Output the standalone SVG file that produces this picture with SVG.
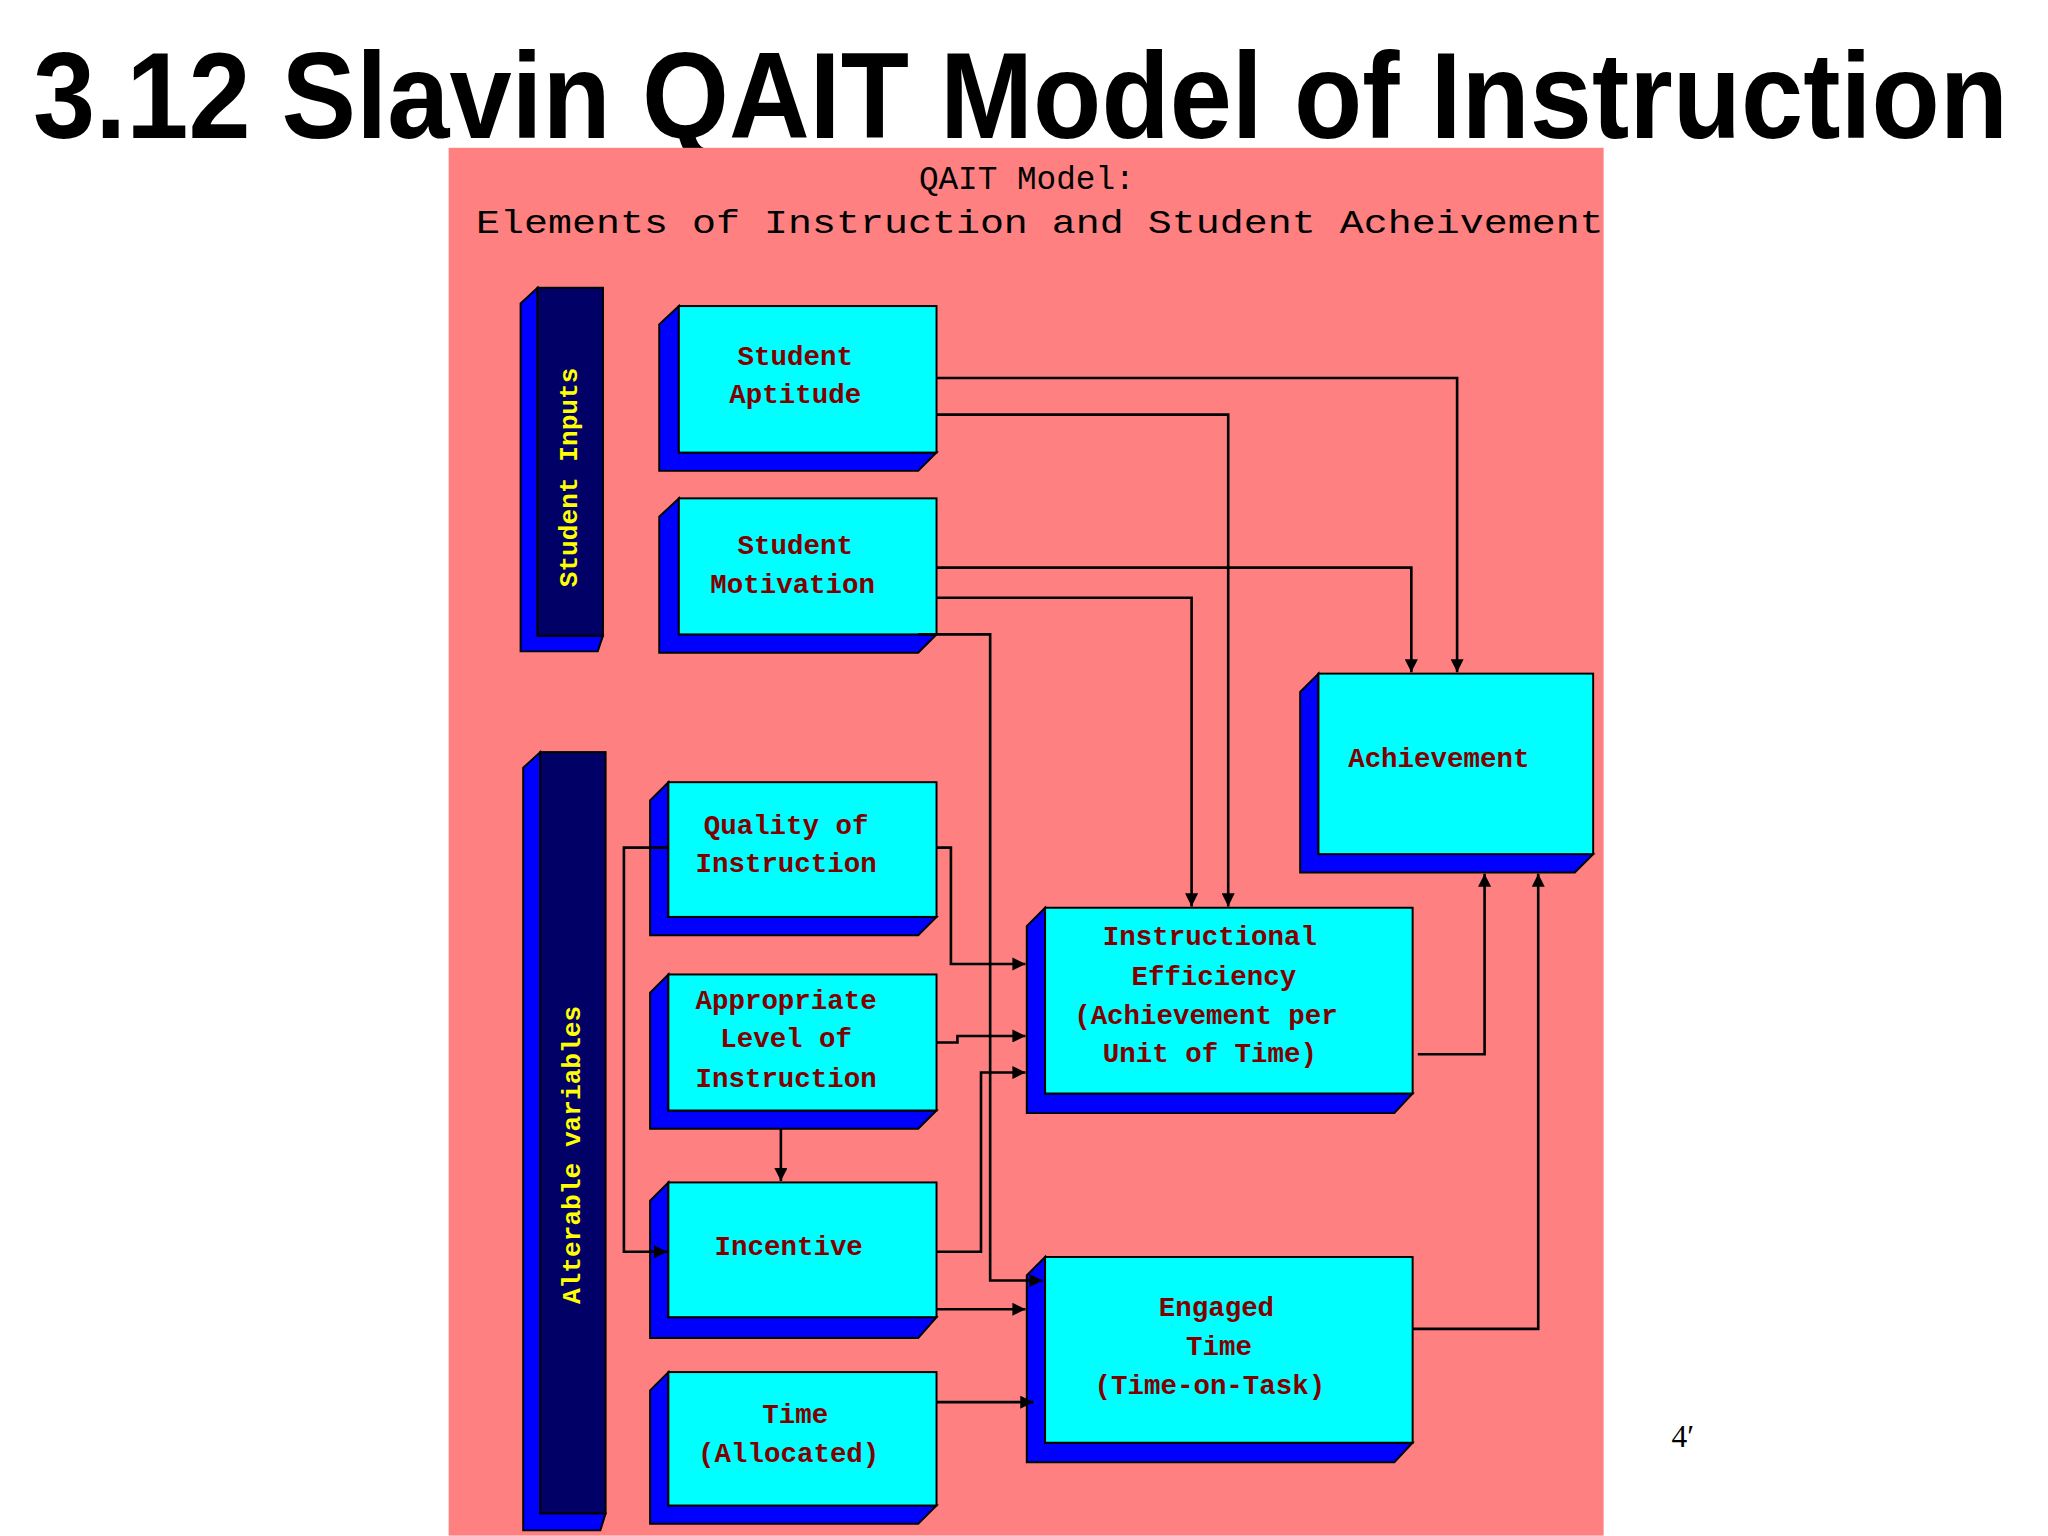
<svg xmlns="http://www.w3.org/2000/svg" width="2048" height="1536" viewBox="0 0 2048 1536">
<style>
.sh{fill:#0000ff;stroke:#000;stroke-width:1.5}
.fr{fill:#00ffff;stroke:#000;stroke-width:1.5}
.bar{fill:#000066;stroke:#000;stroke-width:1.5}
.t{font-family:"Liberation Mono","DejaVu Sans Mono",monospace;font-weight:bold;font-size:21px;fill:#800000;text-anchor:middle;dominant-baseline:central}
.v{font-family:"Liberation Mono","DejaVu Sans Mono",monospace;font-weight:bold;font-size:20px;fill:#ffff00;text-anchor:middle;dominant-baseline:central}
.c{fill:none;stroke:#000;stroke-width:2}
</style>
<defs>
<marker id="ah" viewBox="0 0 10 10" refX="10" refY="5" markerWidth="12" markerHeight="10" markerUnits="userSpaceOnUse" orient="auto"><path d="M0,0 L10,5 L0,10 z" fill="#000"/></marker>
</defs>
<rect width="2048" height="1536" fill="#fff"/>
<text x="33" y="138" font-family="'Liberation Sans',Arial,sans-serif" font-weight="bold" font-size="122" textLength="1975" lengthAdjust="spacingAndGlyphs">3.12 Slavin QAIT Model of Instruction</text>
<g transform="scale(1.308)">
<rect x="343" y="113" width="883" height="1061" fill="#ff8080"/>
<text x="785" y="138" class="t" style="fill:#000;font-weight:normal;font-size:25px">QAIT Model:</text>
<text x="795" y="172" class="t" style="fill:#000;font-weight:normal;font-size:25px" textLength="862" lengthAdjust="spacingAndGlyphs">Elements of Instruction and Student Acheivement</text>
<g id="student-inputs"><path class="sh" d="M411,220 L398,232 L398,498 L457,498 L461,486 L411,486 Z"/><rect class="bar" x="411" y="220" width="50" height="266"/><text class="v" transform="translate(436,365) rotate(-90)">Student Inputs</text></g>
<g id="alterable"><path class="sh" d="M413,575 L400,587 L400,1170 L459,1170 L463,1157 L413,1157 Z"/><rect class="bar" x="413" y="575" width="50" height="582"/><text class="v" transform="translate(438,883) rotate(-90)">Alterable variables</text></g>
<g id="aptitude"><path class="sh" d="M519,234 L504,248 L504,360 L702,360 L716,346 L519,346 Z"/><rect class="fr" x="519" y="234" width="197" height="112"/><text class="t" x="608" y="273">Student</text><text class="t" x="608" y="302">Aptitude</text></g>
<g id="motivation"><path class="sh" d="M519,381 L504,395 L504,499 L702,499 L716,485 L519,485 Z"/><rect class="fr" x="519" y="381" width="197" height="104"/><text class="t" x="608" y="418">Student</text><text class="t" x="606" y="448">Motivation</text></g>
<g id="achievement"><path class="sh" d="M1008,515 L994,529 L994,667 L1204,667 L1218,653 L1008,653 Z"/><rect class="fr" x="1008" y="515" width="210" height="138"/><text class="t" x="1100" y="581">Achievement</text></g>
<g id="quality"><path class="sh" d="M511,598 L497,612 L497,715 L702,715 L716,701 L511,701 Z"/><rect class="fr" x="511" y="598" width="205" height="103"/><text class="t" x="601" y="632">Quality of</text><text class="t" x="601" y="661">Instruction</text></g>
<g id="appropriate"><path class="sh" d="M511,745 L497,759 L497,863 L702,863 L716,849 L511,849 Z"/><rect class="fr" x="511" y="745" width="205" height="104"/><text class="t" x="601" y="766">Appropriate</text><text class="t" x="601" y="795">Level of</text><text class="t" x="601" y="825">Instruction</text></g>
<g id="incentive"><path class="sh" d="M511,904 L497,918 L497,1023 L702,1023 L716,1007 L511,1007 Z"/><rect class="fr" x="511" y="904" width="205" height="103"/><text class="t" x="603" y="954">Incentive</text></g>
<g id="time"><path class="sh" d="M511,1049 L497,1063 L497,1165 L702,1165 L716,1151 L511,1151 Z"/><rect class="fr" x="511" y="1049" width="205" height="102"/><text class="t" x="608" y="1082">Time</text><text class="t" x="603" y="1112">(Allocated)</text></g>
<g id="efficiency"><path class="sh" d="M799,694 L785,708 L785,851 L1066,851 L1080,836 L799,836 Z"/><rect class="fr" x="799" y="694" width="281" height="142"/><text class="t" x="925" y="717">Instructional</text><text class="t" x="928" y="747">Efficiency</text><text class="t" x="922" y="777">(Achievement per</text><text class="t" x="925" y="806">Unit of Time)</text></g>
<g id="engaged"><path class="sh" d="M799,961 L785,975 L785,1118 L1066,1118 L1080,1103 L799,1103 Z"/><rect class="fr" x="799" y="961" width="281" height="142"/><text class="t" x="930" y="1000">Engaged</text><text class="t" x="932" y="1030">Time</text><text class="t" x="925" y="1060">(Time-on-Task)</text></g>
<g id="connectors">
<path class="c" marker-end="url(#ah)" d="M716,289 H1114 V514"/>
<path class="c" marker-end="url(#ah)" d="M716,317 H939 V693"/>
<path class="c" marker-end="url(#ah)" d="M716,434 H1079 V514"/>
<path class="c" marker-end="url(#ah)" d="M716,457 H911 V693"/>
<path class="c" marker-end="url(#ah)" d="M702,485 H757 V979 H797"/>
<path class="c" marker-end="url(#ah)" d="M716,648 H727 V737 H784"/>
<path class="c" marker-end="url(#ah)" d="M511,648 H477 V957 H510"/>
<path class="c" marker-end="url(#ah)" d="M716,797 H732 V792 H784"/>
<path class="c" marker-end="url(#ah)" d="M716,957 H750 V820 H784"/>
<path class="c" marker-end="url(#ah)" d="M716,1001 H784"/>
<path class="c" marker-end="url(#ah)" d="M716,1072 H790"/>
<path class="c" marker-end="url(#ah)" d="M597,863 V903"/>
<path class="c" marker-end="url(#ah)" d="M1084,806 H1135 V668"/>
<path class="c" marker-end="url(#ah)" d="M1080,1016 H1176 V668"/>
</g>
<text x="1278" y="1106" font-family="'Liberation Serif',serif" font-size="24">4′</text>
</g>
</svg>
